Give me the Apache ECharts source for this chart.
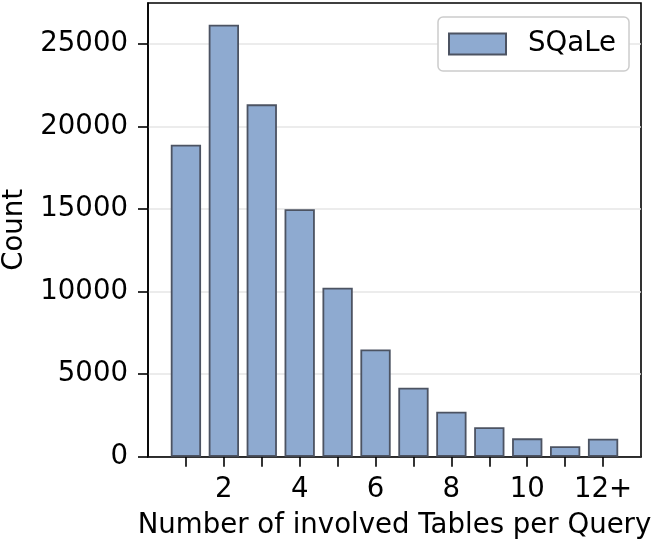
<!DOCTYPE html>
<html>
<head>
<meta charset="utf-8">
<script src="https://cdn.jsdelivr.net/npm/echarts@6/dist/echarts.min.js"></script>
<style>html,body{margin:0;padding:0;background:#fff}#c{width:655px;height:544px}</style>
</head>
<body>
<div id="c"></div>
<script>
const categories = [1, 2, 3, 4, 5, 6, 7, 8, 9, 10, 11, 12];
const counts = [18900, 26170, 21340, 14990, 10240, 6500, 4180, 2730, 1780, 1110, 630, 1090];
const xTickLabelPositions = [2, 4, 6, 8, 10, 12];
const xTickLabels = ['2', '4', '6', '8', '10', '12+'];
const yTicks = [0, 5000, 10000, 15000, 20000, 25000];
const seriesName = 'SQaLe';

const FONT = 'DejaVu Sans';
const FS = 27.6;
const chart = echarts.init(document.getElementById('c'), null, {renderer: 'canvas'});
chart.setOption({
  animation: false,
  backgroundColor: '#ffffff',
  grid: {left: 148, top: 3, width: 493, height: 453.7, show: true, borderColor: '#000', borderWidth: 1.6, backgroundColor: 'transparent', containLabel: false, outerBoundsMode: 'none'},
  legend: {
    left: 438, top: 17,
    padding: [13, 13, 13, 10],
    borderColor: '#cccccc', borderWidth: 1.5, borderRadius: 5, backgroundColor: '#fff',
    itemWidth: 57, itemHeight: 21,
    icon: 'rect',
    textStyle: {fontFamily: FONT, fontSize: FS, color: '#000', padding: [2, 0, 0, 17], lineHeight: 24},
    data: [seriesName]
  },
  xAxis: {
    type: 'value', min: 0, max: 13, interval: 1,
    name: 'Number of involved Tables per Query', nameLocation: 'middle', nameGap: 55,
    nameTextStyle: {fontFamily: FONT, fontSize: FS, color: '#000'},
    axisLine: {show: true, lineStyle: {color: '#000', width: 1.6}},
    axisTick: {show: true, length: 10, lineStyle: {color: '#000', width: 1.6}, customValues: categories},
    axisLabel: {
      fontFamily: FONT, fontSize: FS, color: '#000', margin: 19,
      customValues: xTickLabelPositions,
      formatter: v => { const i = xTickLabelPositions.indexOf(v); return i >= 0 ? xTickLabels[i] : ''; }
    },
    splitLine: {show: false}
  },
  yAxis: {
    type: 'value', min: 0, max: 27480, interval: 5000,
    name: 'Count', nameLocation: 'middle', nameGap: 117,
    nameTextStyle: {fontFamily: FONT, fontSize: FS, color: '#000'},
    axisLine: {show: true, lineStyle: {color: '#000', width: 1.6}},
    axisTick: {show: true, length: 10, lineStyle: {color: '#000', width: 1.6}, customValues: yTicks},
    axisLabel: {fontFamily: FONT, fontSize: FS, color: '#000', margin: 20, customValues: yTicks, formatter: v => String(v)},
    splitLine: {show: true, lineStyle: {color: '#e6e6e6', width: 1.5}}
  },
  series: [{
    name: seriesName,
    type: 'bar',
    barWidth: 30.3,
    data: categories.map((c, i) => [c, counts[i]]),
    itemStyle: {color: '#8eaad0', borderColor: '#4c5362', borderWidth: 1.8}
  }]
});
</script>
</body>
</html>
